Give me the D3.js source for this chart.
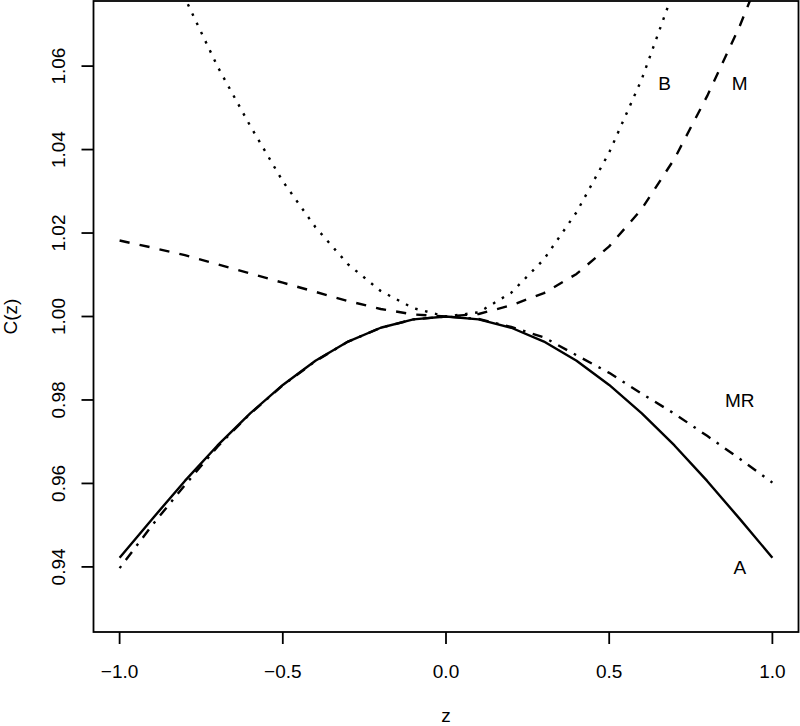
<!DOCTYPE html>
<html>
<head>
<meta charset="utf-8">
<script src="https://cdn.jsdelivr.net/npm/d3@7"></script>
<style>
  html, body { margin: 0; padding: 0; background: #fff; }
  svg { display: block; }
  text { font-family: "Liberation Sans", Arial, Helvetica, sans-serif; fill: #000; }
</style>
</head>
<body>
<div id="chart"></div>
<script>
// values, z from -1 to 1 in steps of 0.1
var zVals = [-1.0, -0.9, -0.8, -0.7, -0.6, -0.5, -0.4, -0.3, -0.2, -0.1, 0.0,
  0.1, 0.2, 0.3, 0.4, 0.5, 0.6, 0.7, 0.8, 0.9, 1.0];
var cA = [0.9422, 0.9515, 0.9606, 0.9691, 0.9768, 0.9836, 0.9894, 0.9940, 0.9973, 0.9993, 1.0000,
  0.9993, 0.9973, 0.9940, 0.9894, 0.9836, 0.9768, 0.9691, 0.9606, 0.9515, 0.9422];
var cMR = [0.9397, 0.9500, 0.9596, 0.9688, 0.9767, 0.9835, 0.9893, 0.9940, 0.9973, 0.9993, 1.0000,
  0.9994, 0.9975, 0.9950, 0.9907, 0.9865, 0.9815, 0.9767, 0.9714, 0.9659, 0.9602];
var cM = [1.0182, 1.0165, 1.0147, 1.0125, 1.0103, 1.0081, 1.0059, 1.0037, 1.0018, 1.0005, 1.0000,
  1.0006, 1.0027, 1.0056, 1.0102, 1.0168, 1.0258, 1.0378, 1.0528, 1.0696, 1.0890];
var cB = [1.1130, 1.0940, 1.0763, 1.0599, 1.0457, 1.0324, 1.0214, 1.0125, 1.0061, 1.0020, 1.0000,
  1.0010, 1.0057, 1.0137, 1.0250, 1.0393, 1.0569, 1.0786, 1.1030, 1.1300, 1.1600];

var xTicks = [-1.0, -0.5, 0.0, 0.5, 1.0];
var yTicks = [0.94, 0.96, 0.98, 1.00, 1.02, 1.04, 1.06];
var xlim = [-1, 1];
var ylim = [0.93, 1.07];

var labelText = ['B', 'M', 'MR', 'A'];
var labelZ = [0.67, 0.9, 0.9, 0.9];
var labelC = [1.056, 1.056, 0.98, 0.94];

var width = 800,
  height = 726,
  plotLeft = 93.5,
  plotRight = 798.5,
  plotTop = 1,
  plotBottom = 632,
  fontSize = 19,
  u = 2.55; // dash unit

// R style 4% axis extension
var xPad = (xlim[1] - xlim[0]) * 0.04,
  yPad = (ylim[1] - ylim[0]) * 0.04;

var x = d3.scaleLinear()
  .domain([xlim[0] - xPad, xlim[1] + xPad])
  .range([plotLeft, plotRight]);
var y = d3.scaleLinear()
  .domain([ylim[0] - yPad, ylim[1] + yPad])
  .range([plotBottom, plotTop]);

var svg = d3.select('#chart').append('svg')
  .attr('width', width)
  .attr('height', height);

svg.append('defs').append('clipPath')
  .attr('id', 'plotclip')
  .append('rect')
  .attr('x', plotLeft)
  .attr('y', plotTop)
  .attr('width', plotRight - plotLeft)
  .attr('height', plotBottom - plotTop);

var series = [
  { vals: cA, dash: null },
  { vals: cMR, dash: [u, 3 * u, 4 * u, 3 * u].join(' ') },
  { vals: cM, dash: [4 * u, 4 * u].join(' ') },
  { vals: cB, dash: [u, 3 * u].join(' ') }
];

var line = d3.line()
  .x(function(d) { return x(d[0]); })
  .y(function(d) { return y(d[1]); });

var g = svg.append('g').attr('clip-path', 'url(#plotclip)');

series.forEach(function(s) {
  var pts = zVals.map(function(z, i) { return [z, s.vals[i]]; });
  g.append('path')
    .datum(pts)
    .attr('d', line)
    .style('fill', 'none')
    .style('stroke', '#000')
    .style('stroke-width', 2.4)
    .style('stroke-linejoin', 'round')
    .style('stroke-dasharray', s.dash);
});

// curve labels
labelText.forEach(function(t, i) {
  svg.append('text')
    .attr('x', x(labelZ[i]))
    .attr('y', y(labelC[i]))
    .attr('dy', '0.36em')
    .style('text-anchor', 'middle')
    .style('font-size', fontSize + 'px')
    .text(t);
});

// box
svg.append('rect')
  .attr('x', plotLeft)
  .attr('y', plotTop)
  .attr('width', plotRight - plotLeft)
  .attr('height', plotBottom - plotTop)
  .style('fill', 'none')
  .style('stroke', '#000')
  .style('stroke-width', 1.8);

// x axis
var xAxis = svg.append('g');
xAxis.selectAll('line')
  .data(xTicks)
  .enter().append('line')
  .attr('x1', function(d) { return x(d); })
  .attr('x2', function(d) { return x(d); })
  .attr('y1', plotBottom)
  .attr('y2', plotBottom + 12)
  .style('stroke', '#000')
  .style('stroke-width', 1.8);
xAxis.selectAll('text')
  .data(xTicks)
  .enter().append('text')
  .attr('x', function(d) { return x(d); })
  .attr('y', 678)
  .style('text-anchor', 'middle')
  .style('font-size', fontSize + 'px')
  .text(d3.format('.1f'));

// y axis
var yAxis = svg.append('g');
yAxis.selectAll('line')
  .data(yTicks)
  .enter().append('line')
  .attr('x1', plotLeft)
  .attr('x2', plotLeft - 12)
  .attr('y1', function(d) { return y(d); })
  .attr('y2', function(d) { return y(d); })
  .style('stroke', '#000')
  .style('stroke-width', 1.8);
yAxis.selectAll('text')
  .data(yTicks)
  .enter().append('text')
  .attr('transform', function(d) { return 'translate(65,' + y(d) + ') rotate(-90)'; })
  .style('text-anchor', 'middle')
  .style('font-size', fontSize + 'px')
  .text(d3.format('.2f'));

// axis titles
svg.append('text')
  .attr('x', (plotLeft + plotRight) / 2)
  .attr('y', 722)
  .style('text-anchor', 'middle')
  .style('font-size', fontSize + 'px')
  .text('z');
svg.append('text')
  .attr('transform', 'translate(17,' + (plotTop + plotBottom) / 2 + ') rotate(-90)')
  .style('text-anchor', 'middle')
  .style('font-size', fontSize + 'px')
  .text('C(z)');
</script>
</body>
</html>
